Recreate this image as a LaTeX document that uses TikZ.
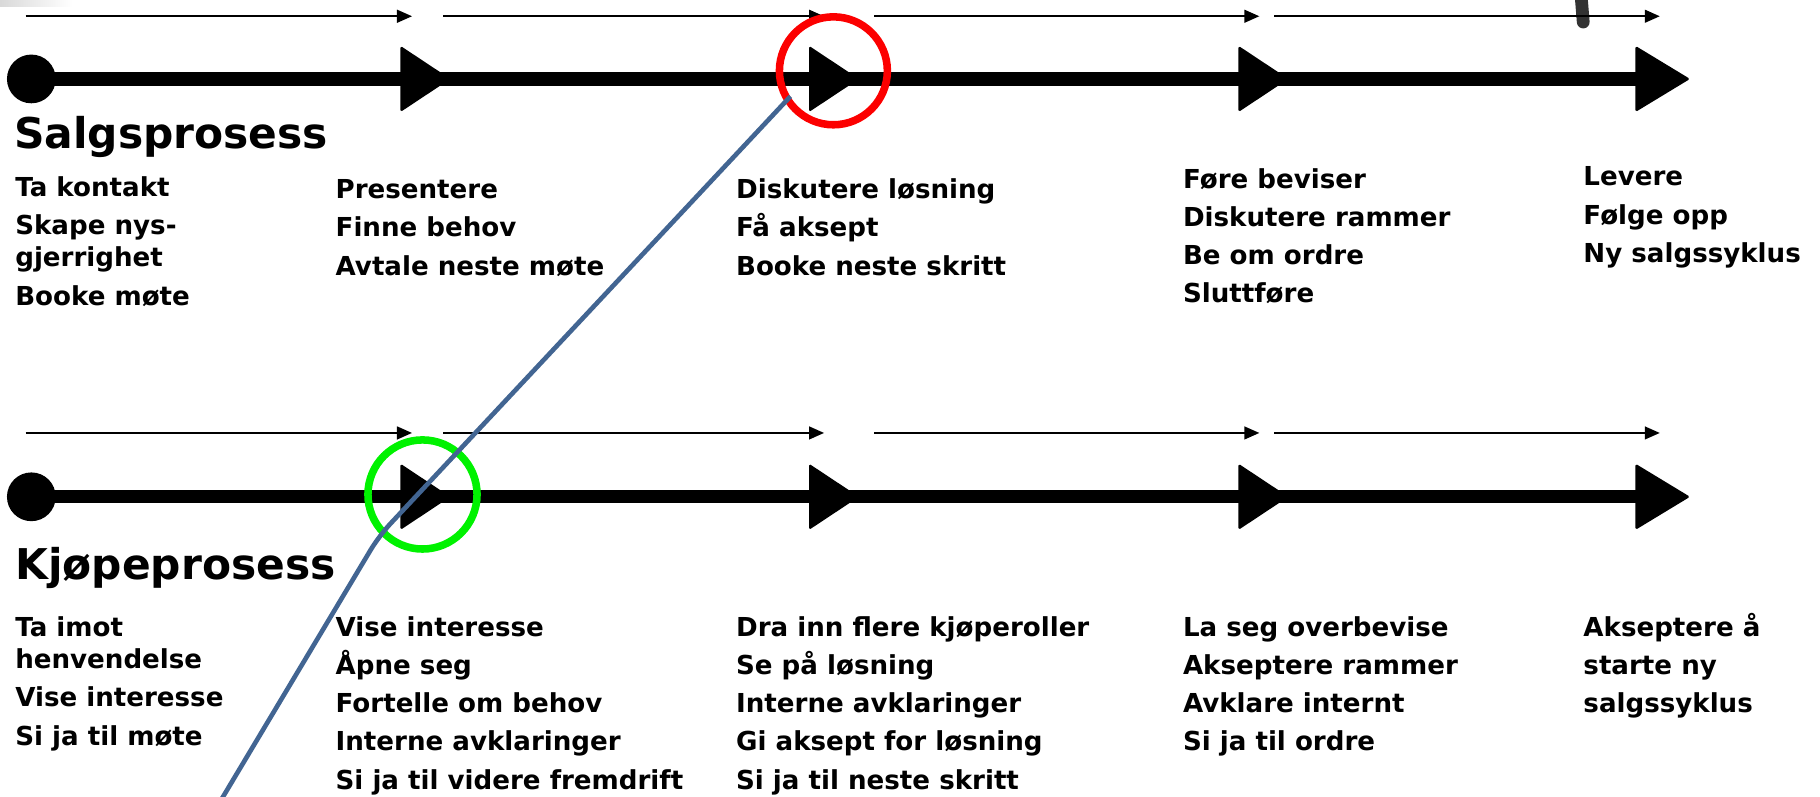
\documentclass[tikz,border=0pt]{standalone}
\usepackage{fontspec}
\setmainfont{DejaVu Sans}
\usepackage{xcolor}
\usepackage{tikz}
\usetikzlibrary{arrows.meta}

\definecolor{linkblue}{RGB}{66,101,146}
\definecolor{ringred}{RGB}{252,0,0}
\definecolor{ringgreen}{RGB}{0,242,0}

\begin{document}
\begin{tikzpicture}[x=1pt,y=-1pt,
    mainline/.style={line width=11.5pt,shorten >=22pt},
    guide/.style={line width=1.8pt,-{Triangle[length=13pt,width=11pt]}},
    ring/.style={line width=6.5pt},
    % multi-line nodes sit on the baseline of their last line
    steptext/.style={anchor=base west,inner sep=0pt,align=left,
      font=\fontsize{22.5}{33}\selectfont\bfseries},
    heading/.style={anchor=base west,inner sep=0pt,
      font=\fontsize{36.5}{40}\selectfont\bfseries}]
  \useasboundingbox (0,0) rectangle (1568,686);
  \clip (0,0) rectangle (1568,686);

  % Leftovers from the cut-out
  \shade[left color=black!15,right color=white] (0,0) rectangle (62,6);
  \draw[black!80,line width=11pt,line cap=round] (1362,-6) -- (1364,19);

  % Timeline positions
  \coordinate (s0) at (27,68);
  \coordinate (s1) at (388,68);
  \coordinate (s2) at (740,68);
  \coordinate (s3) at (1110,68);
  \coordinate (s4) at (1456,68);

  \coordinate (k0) at (27,428);
  \coordinate (k1) at (388,428);
  \coordinate (k2) at (740,428);
  \coordinate (k3) at (1110,428);
  \coordinate (k4) at (1456,428);

  % Phase arrows above the timelines
  \foreach \a/\b [count=\i] in {22/355,382/710,753/1085,1098/1430} {
    \coordinate (sga\i) at (\a,14);
    \coordinate (sgb\i) at (\b,14);
    \coordinate (kga\i) at (\a,373);
    \coordinate (kgb\i) at (\b,373);
    \draw[guide] (sga\i) -- (sgb\i);
    \draw[guide] (kga\i) -- (kgb\i);
  }

  % Timelines
  \draw[mainline] (s0) -- (s4);
  \draw[mainline] (k0) -- (k4);
  \fill (s0) circle (21);
  \fill (k0) circle (21);
  \foreach \t in {s1,s2,s3,k1,k2,k3}
    \fill[rounded corners=1.5pt] (\t) -- ++(-43,-28.5) -- ++(0,57) -- cycle;
  \fill[rounded corners=1.5pt] (s4) -- ++(-47,-28.5) -- ++(0,57) -- cycle;
  \fill[rounded corners=1.5pt] (k4) -- ++(-47,-28.5) -- ++(0,57) -- cycle;

  % Marked steps
  \coordinate (hot) at (718,61);
  \coordinate (cold) at (364,426);
  \draw[ringred,ring] (hot) circle (46.5);
  \draw[ringgreen,ring] (cold) circle (47);

  % Link between the two steps
  \coordinate (lnk0) at (681,83);
  \coordinate (lnk1) at (326.6,461.6);
  \coordinate (lnk2) at (190,690);
  \draw[linkblue,line width=4pt,rounded corners=14pt] (lnk0) -- (lnk1) -- (lnk2);

  % Sales process
  \node[heading] (salg) at (12,128) {Salgsprosess};
  \node[steptext] (salgA) at (13,263) {Ta kontakt\\Skape nys-\\[-5pt]gjerrighet\\Booke møte};
  \node[steptext] (salgB) at (289,237) {Presentere\\Finne behov\\Avtale neste møte};
  \node[steptext] (salgC) at (634,237) {Diskutere løsning\\Få aksept\\Booke neste skritt};
  \node[steptext] (salgD) at (1019,261) {Føre beviser\\Diskutere rammer\\Be om ordre\\Sluttføre};
  \node[steptext] (salgE) at (1364,226) {Levere\\Følge opp\\Ny salgssyklus};

  % Buying process
  \node[heading] (kjop) at (13,499) {Kjøpeprosess};
  \node[steptext] (kjopA) at (13,642) {Ta imot\\[-5pt]henvendelse\\Vise interesse\\Si ja til møte};
  \node[steptext] (kjopB) at (289,680) {Vise interesse\\Åpne seg\\Fortelle om behov\\Interne avklaringer\\Si ja til videre fremdrift};
  \node[steptext] (kjopC) at (634,680) {Dra inn flere kjøperoller\\Se på løsning\\Interne avklaringer\\Gi aksept for løsning\\Si ja til neste skritt};
  \node[steptext] (kjopD) at (1019,647) {La seg overbevise\\Akseptere rammer\\Avklare internt\\Si ja til ordre};
  \node[steptext] (kjopE) at (1364,614) {Akseptere å\\starte ny\\salgssyklus};
\end{tikzpicture}
\end{document}
